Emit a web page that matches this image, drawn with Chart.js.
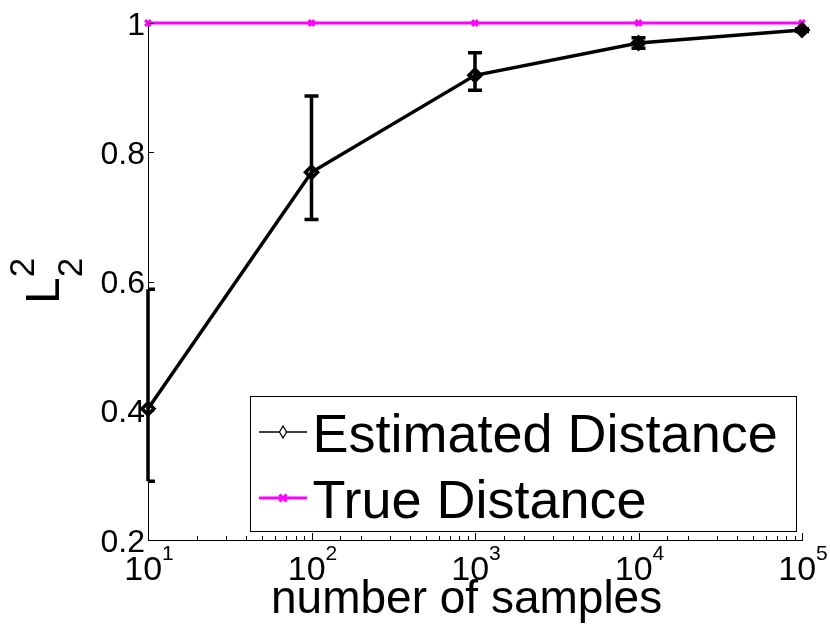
<!DOCTYPE html>
<html>
<head>
<meta charset="utf-8">
<script src="https://cdn.jsdelivr.net/npm/chart.js@4.4.1/dist/chart.umd.min.js"></script>
<style>
html, body { margin: 0; padding: 0; background: #fff; }
#wrap { width: 830px; height: 638px; }
</style>
</head>
<body>
<div id="wrap"><canvas id="chart"></canvas></div>
<script>
// values
var samples = [10, 100, 1000, 10000, 100000];
var estimated = [0.403, 0.769, 0.919, 0.969, 0.989];
var estLow = [0.291, 0.696, 0.896, 0.961, 0.987];
var estHigh = [0.588, 0.887, 0.954, 0.977, 0.991];
var trueDist = [1, 1, 1, 1, 1];

var xTicks = [10, 100, 1000, 10000, 100000];
var xTickExp = ["1", "2", "3", "4", "5"];
var yTicks = [0.2, 0.4, 0.6, 0.8, 1];
var yTickLabels = ["0.2", "0.4", "0.6", "0.8", "1"];

var FONT = '"Liberation Sans", Arial, Helvetica, sans-serif';

function points(ys) {
    return samples.map(function(s, i) { return { x: s, y: ys[i] }; });
}

function setFont(ctx, size) {
    ctx.font = size + "px " + FONT;
}

// error bars, clipped at the left axis like the original
var errorBars = {
    id: "errorBars",
    beforeDatasetsDraw: function(chart) {
        var ctx = chart.ctx;
        var area = chart.chartArea;
        var xs = chart.scales.x;
        var ys = chart.scales.y;
        ctx.save();
        ctx.strokeStyle = "#000";
        ctx.lineWidth = 3.5;
        for (var i = 0; i < samples.length; i++) {
            var px = xs.getPixelForValue(samples[i]);
            var lo = ys.getPixelForValue(estLow[i]);
            var hi = ys.getPixelForValue(estHigh[i]);
            ctx.beginPath();
            ctx.moveTo(px, lo);
            ctx.lineTo(px, hi);
            ctx.moveTo(Math.max(px - 7, area.left), lo);
            ctx.lineTo(px + 7, lo);
            ctx.moveTo(Math.max(px - 7, area.left), hi);
            ctx.lineTo(px + 7, hi);
            ctx.stroke();
        }
        ctx.restore();
    }
};

// matlab-ish axes: inward ticks, tex labels, boxed legend
var matlabAxes = {
    id: "matlabAxes",
    afterDraw: function(chart) {
        var ctx = chart.ctx;
        var area = chart.chartArea;
        var xs = chart.scales.x;
        var ys = chart.scales.y;
        var i, px, py;

        ctx.save();
        ctx.strokeStyle = "#000";
        ctx.lineWidth = 1;
        ctx.beginPath();
        xs.ticks.forEach(function(t) {
            var major = xTicks.indexOf(t.value) >= 0;
            var x = Math.round(xs.getPixelForValue(t.value)) + 0.5;
            ctx.moveTo(x, area.bottom);
            ctx.lineTo(x, area.bottom - (major ? 7 : 4));
        });
        for (i = 0; i < yTicks.length; i++) {
            py = Math.round(ys.getPixelForValue(yTicks[i])) + 0.5;
            ctx.moveTo(area.left, py);
            ctx.lineTo(area.left + 6, py);
        }
        ctx.stroke();

        ctx.fillStyle = "#000";
        ctx.textBaseline = "alphabetic";

        // y tick labels
        setFont(ctx, 32);
        ctx.textAlign = "right";
        for (i = 0; i < yTicks.length; i++) {
            py = ys.getPixelForValue(yTicks[i]);
            ctx.fillText(yTickLabels[i], area.left - 3, py + 11.5);
        }

        // x tick labels 10^n
        ctx.textAlign = "left";
        for (i = 0; i < xTicks.length; i++) {
            px = xs.getPixelForValue(xTicks[i]);
            setFont(ctx, 34);
            var w1 = ctx.measureText("10").width;
            setFont(ctx, 21);
            var w2 = ctx.measureText(xTickExp[i]).width;
            var start = px - (w1 + w2) / 2 + 1;
            setFont(ctx, 34);
            ctx.fillText("10", start, area.bottom + 40);
            setFont(ctx, 21);
            ctx.fillText(xTickExp[i], start + w1, area.bottom + 20);
        }

        // x title
        setFont(ctx, 46);
        ctx.fillText("number of samples", 271, 613);

        // y title L_2^2, rotated
        ctx.save();
        ctx.translate(59, 304);
        ctx.rotate(-Math.PI / 2);
        setFont(ctx, 48);
        ctx.fillText("L", 0, 0);
        var lw = ctx.measureText("L").width;
        setFont(ctx, 35);
        ctx.fillText("2", lw, 23);
        ctx.fillText("2", lw, -25);
        ctx.restore();

        // legend
        var box = { left: 250.5, top: 396.5, right: 796.5, bottom: 531.5 };
        ctx.fillStyle = "#fff";
        ctx.fillRect(box.left, box.top, box.right - box.left, box.bottom - box.top);
        ctx.strokeStyle = "#000";
        ctx.lineWidth = 1;
        ctx.strokeRect(box.left, box.top, box.right - box.left, box.bottom - box.top);

        var ds = chart.data.datasets;
        var rows = [432, 498];
        var lx1 = 259, lx2 = 307, mx = 283;

        // estimated: thin line with hollow diamond
        ctx.beginPath();
        ctx.strokeStyle = ds[0].borderColor;
        ctx.lineWidth = 1.3;
        ctx.moveTo(lx1, rows[0]);
        ctx.lineTo(mx - 3.5, rows[0]);
        ctx.moveTo(mx + 3.5, rows[0]);
        ctx.lineTo(lx2, rows[0]);
        ctx.stroke();
        ctx.beginPath();
        ctx.moveTo(mx - 3.5, rows[0]);
        ctx.lineTo(mx, rows[0] - 6);
        ctx.lineTo(mx + 3.5, rows[0]);
        ctx.lineTo(mx, rows[0] + 6);
        ctx.closePath();
        ctx.stroke();

        // true: magenta line with x marker
        ctx.beginPath();
        ctx.strokeStyle = ds[1].borderColor;
        ctx.lineWidth = 3;
        ctx.moveTo(lx1, rows[1]);
        ctx.lineTo(lx2, rows[1]);
        ctx.moveTo(mx - 3.5, rows[1] - 3.5);
        ctx.lineTo(mx + 3.5, rows[1] + 3.5);
        ctx.moveTo(mx - 3.5, rows[1] + 3.5);
        ctx.lineTo(mx + 3.5, rows[1] - 3.5);
        ctx.stroke();

        ctx.fillStyle = "#000";
        setFont(ctx, 54);
        ctx.textAlign = "left";
        for (i = 0; i < ds.length; i++) {
            ctx.fillText(ds[i].label, 312.5, rows[i] + 20);
        }
        ctx.restore();
    }
};

new Chart(document.getElementById("chart"), {
    type: "line",
    data: {
        datasets: [{
            label: "Estimated Distance",
            data: points(estimated),
            borderColor: "#000",
            borderWidth: 3.5,
            pointStyle: "rectRot",
            pointRadius: 6,
            pointBorderWidth: 3.5,
            pointBorderColor: "#000",
            pointBackgroundColor: "rgba(0,0,0,0)",
            tension: 0,
            clip: false
        }, {
            label: "True Distance",
            data: points(trueDist),
            borderColor: "#ff00ff",
            borderWidth: 3,
            pointStyle: "crossRot",
            pointRadius: 4,
            pointBorderWidth: 3,
            pointBorderColor: "#ff00ff",
            tension: 0,
            clip: false
        }]
    },
    options: {
        responsive: true,
        maintainAspectRatio: false,
        animation: false,
        events: [],
        layout: { padding: { left: 148, right: 28, top: 23, bottom: 98 } },
        plugins: {
            legend: { display: false },
            tooltip: { enabled: false }
        },
        scales: {
            x: {
                type: "logarithmic",
                min: 10,
                max: 100000,
                grid: { display: false, drawTicks: false },
                ticks: { display: false },
                border: { display: true, color: "#000", width: 1 }
            },
            y: {
                type: "linear",
                min: 0.2,
                max: 1,
                grid: { display: false, drawTicks: false },
                ticks: { display: false },
                border: { display: true, color: "#000", width: 1 }
            }
        }
    },
    plugins: [errorBars, matlabAxes]
});
</script>
</body>
</html>
